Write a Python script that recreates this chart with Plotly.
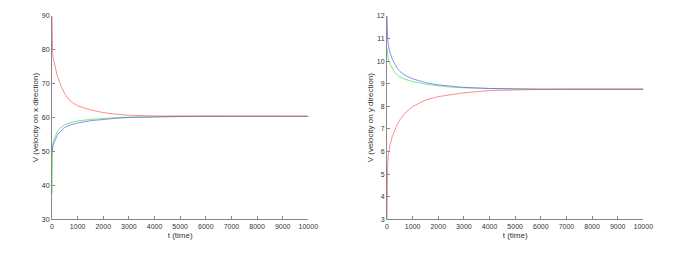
import plotly.graph_objects as go

t = [0, 10, 25, 50, 100, 200, 300, 400, 500, 700, 1000, 1500, 2000, 2500, 3000, 4000, 5000, 6000, 8000, 10000]

vx_red = [90, 82, 79, 77.5, 75.5, 72.5, 70.3, 68.5, 67, 65, 63.5, 62.3, 61.5, 61.0, 60.7, 60.5, 60.45, 60.4, 60.4, 60.4]
vx_green = [37.5, 51, 52, 52.8, 54, 55.8, 56.8, 57.4, 57.9, 58.5, 59.0, 59.5, 59.8, 60.0, 60.15, 60.3, 60.35, 60.4, 60.4, 60.4]
vx_blue = [50, 50.8, 51.3, 52, 53, 54.7, 55.7, 56.5, 57.1, 57.8, 58.4, 59.1, 59.5, 59.8, 60.05, 60.25, 60.35, 60.4, 60.4, 60.4]

vy_blue = [12, 11.3, 11.0, 10.75, 10.45, 10.1, 9.85, 9.68, 9.55, 9.38, 9.22, 9.05, 8.95, 8.88, 8.84, 8.79, 8.77, 8.76, 8.76, 8.76]
vy_green = [10.6, 10.35, 10.2, 10.05, 9.92, 9.68, 9.5, 9.4, 9.3, 9.2, 9.1, 8.98, 8.9, 8.85, 8.82, 8.78, 8.77, 8.76, 8.76, 8.76]
vy_red = [3, 4.9, 5.4, 5.8, 6.2, 6.65, 6.95, 7.2, 7.4, 7.7, 7.99, 8.28, 8.43, 8.52, 8.6, 8.7, 8.74, 8.75, 8.76, 8.76]

x_ticks = [0, 1000, 2000, 3000, 4000, 5000, 6000, 7000, 8000, 9000, 10000]
x_labels = [str(v) for v in x_ticks]
y1_ticks = [30, 40, 50, 60, 70, 80, 90]
y2_ticks = [3, 4, 5, 6, 7, 8, 9, 10, 11, 12]

RED = "rgba(255,80,80,0.65)"
GREEN = "rgba(60,220,60,0.65)"
BLUE = "rgba(80,80,255,0.65)"

W, H = 676, 247  # page has an 8px body margin

fig = go.Figure()
for y, c in [(vx_green, GREEN), (vx_blue, BLUE), (vx_red, RED)]:
    fig.add_trace(go.Scatter(x=t, y=y, mode="lines", line=dict(color=c, width=1),
                             xaxis="x", yaxis="y", showlegend=False))
for y, c in [(vy_green, GREEN), (vy_blue, BLUE), (vy_red, RED)]:
    fig.add_trace(go.Scatter(x=t, y=y, mode="lines", line=dict(color=c, width=1),
                             xaxis="x2", yaxis="y2", showlegend=False))

axcommon = dict(showgrid=False, zeroline=False, showline=True, linecolor="#888",
                linewidth=1, ticks="inside", ticklen=3, tickcolor="#888",
                automargin=False, tickfont=dict(size=7, color="#333"))

ydom = [1 - 211.3 / H, 1 - 8 / H]
fig.update_layout(
    width=W, height=H,
    margin=dict(l=0, r=0, t=0, b=0),
    paper_bgcolor="white", plot_bgcolor="white",
    font=dict(family="Liberation Sans, Arial, sans-serif", size=7, color="#333"),
    xaxis=dict(domain=[44 / W, 300.3 / W], range=[0, 10000], tickvals=x_ticks, ticktext=x_labels,
               anchor="y", title=dict(text="t (time)", standoff=3, font=dict(size=8)), **axcommon),
    yaxis=dict(domain=ydom, range=[30, 90], tickvals=y1_ticks,
               anchor="x", title=dict(text="V (velocity on x direction)", standoff=1, font=dict(size=8)), **axcommon),
    xaxis2=dict(domain=[379 / W, 635.3 / W], range=[0, 10000], tickvals=x_ticks, ticktext=x_labels,
                anchor="y2", title=dict(text="t (time)", standoff=3, font=dict(size=8)), **axcommon),
    yaxis2=dict(domain=ydom, range=[3, 12], tickvals=y2_ticks,
                anchor="x2", title=dict(text="V (velocity on y direction)", standoff=1, font=dict(size=8)), **axcommon),
)

fig.write_html("out.html")
